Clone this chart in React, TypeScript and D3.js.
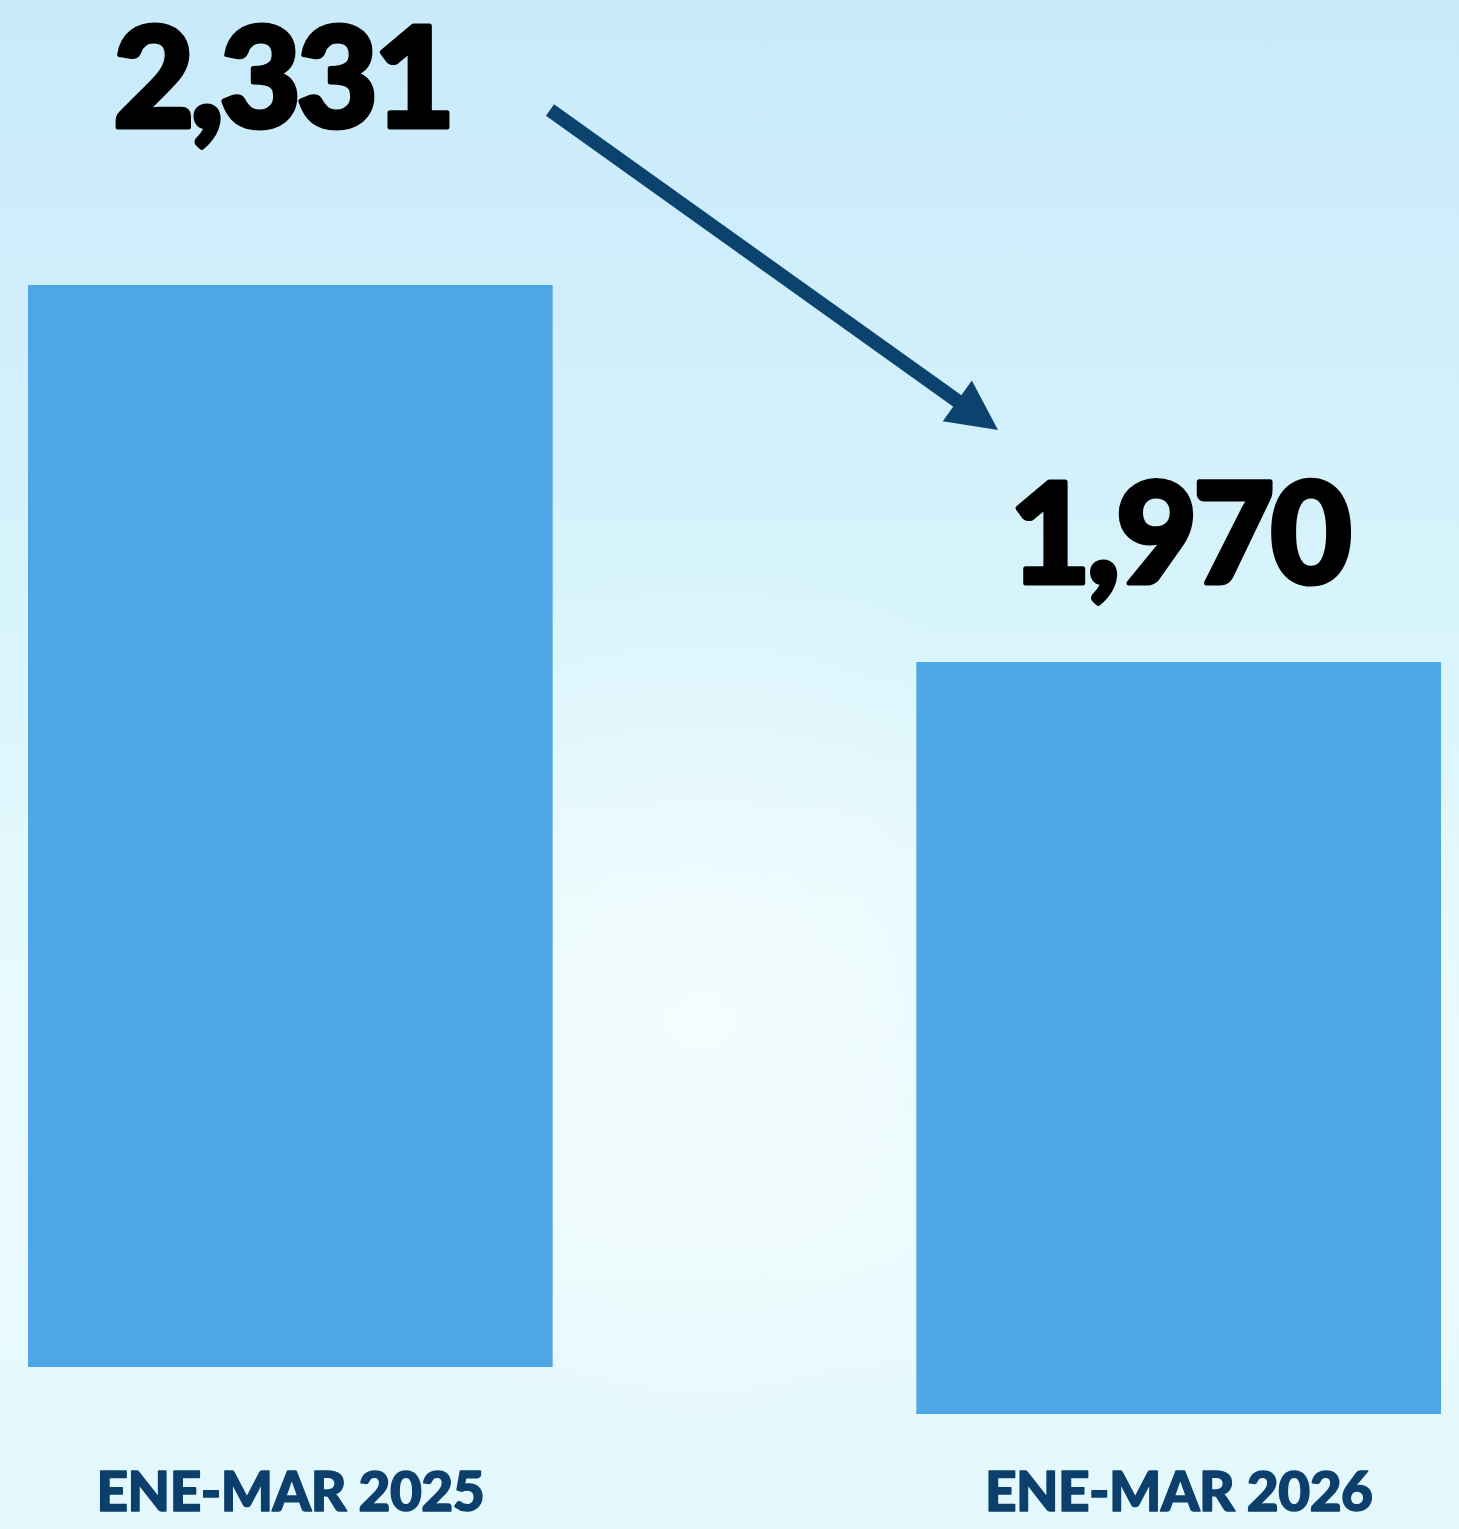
import React from "react";
import * as d3 from "d3";

const categories: string[] = ["ENE-MAR 2025", "ENE-MAR 2026"];
const values: number[] = [2331, 1970];
const valueLabels: string[] = ["2,331", "1,970"];

const W = 1459;
const H = 1529;

export default function App() {
  const x = d3
    .scaleBand<string>()
    .domain(categories)
    .range([28, 1441])
    .paddingInner(0.4094)
    .paddingOuter(0);

  // Scale used by the original graphic (bars are not zero-based)
  const y = d3
    .scaleLinear()
    .domain([d3.min(values) as number, d3.max(values) as number])
    .range([662, 285]);

  const bottoms = [1367, 1414];
  const labelGap = [158, 79];
  const labelShift = [-8, 0];

  // arrow
  const a0: [number, number] = [550, 110];
  const a1: [number, number] = [998, 430];
  const dx = a1[0] - a0[0];
  const dy = a1[1] - a0[1];
  const len = Math.hypot(dx, dy);
  const ux = dx / len;
  const uy = dy / len;
  const headLen = 50;
  const headHalf = 25;
  const bx = a1[0] - ux * headLen;
  const by = a1[1] - uy * headLen;
  const head = [
    [a1[0], a1[1]],
    [bx - uy * headHalf, by + ux * headHalf],
    [bx + uy * headHalf, by - ux * headHalf],
  ];
  const lineEnd: [number, number] = [bx + ux * 4, by + uy * 4];

  return (
    <svg
      width={W}
      height={H}
      viewBox={`0 0 ${W} ${H}`}
      style={{ position: "absolute", left: 0, top: 0, display: "block" }}
    >
      <defs>
        <linearGradient id="bg" x1="0" y1="0" x2="0" y2="1">
          <stop offset="0" stopColor="#c9eafa" />
          <stop offset="0.3" stopColor="#d3f1fb" />
          <stop offset="0.48" stopColor="#dcf6fc" />
          <stop offset="0.6" stopColor="#e6f9fd" />
          <stop offset="0.8" stopColor="#eafafd" />
          <stop offset="1" stopColor="#e2f8fc" />
        </linearGradient>
        <radialGradient id="glow" cx="0.48" cy="0.66" r="0.3">
          <stop offset="0" stopColor="#ffffff" stopOpacity="0.5" />
          <stop offset="1" stopColor="#ffffff" stopOpacity="0" />
        </radialGradient>
      </defs>
      <rect x={0} y={0} width={W} height={H} fill="url(#bg)" />
      <rect x={0} y={0} width={W} height={H} fill="url(#glow)" />

      {categories.map((c, i) => {
        const bx0 = x(c) as number;
        const top = y(values[i]);
        return (
          <g key={c}>
            <rect
              x={bx0}
              y={top}
              width={x.bandwidth()}
              height={bottoms[i] - top}
              fill="#4ea7e4"
            />
            <text
              x={bx0 + x.bandwidth() / 2 + labelShift[i]}
              y={top - labelGap[i]}
              textAnchor="middle"
              fontFamily="Lato, 'Open Sans', sans-serif"
              fontWeight={900}
              fontSize={140}
              letterSpacing={-4}
              fill="#000000"
              stroke="#000000"
              strokeWidth={5}
              strokeLinejoin="round"
            >
              {valueLabels[i]}
            </text>
            <text
              x={bx0 + x.bandwidth() / 2}
              y={1511}
              textAnchor="middle"
              fontFamily="Lato, 'Open Sans', sans-serif"
              fontWeight={900}
              fontSize={55}
              letterSpacing={-0.5}
              fill="#0c3f6b"
              stroke="#0c3f6b"
              strokeWidth={1.5}
              strokeLinejoin="round"
            >
              {c}
            </text>
          </g>
        );
      })}

      <line
        x1={a0[0]}
        y1={a0[1]}
        x2={lineEnd[0]}
        y2={lineEnd[1]}
        stroke="#0c426e"
        strokeWidth={14}
      />
      <polygon points={head.map((p) => p.join(",")).join(" ")} fill="#0c426e" />
    </svg>
  );
}
